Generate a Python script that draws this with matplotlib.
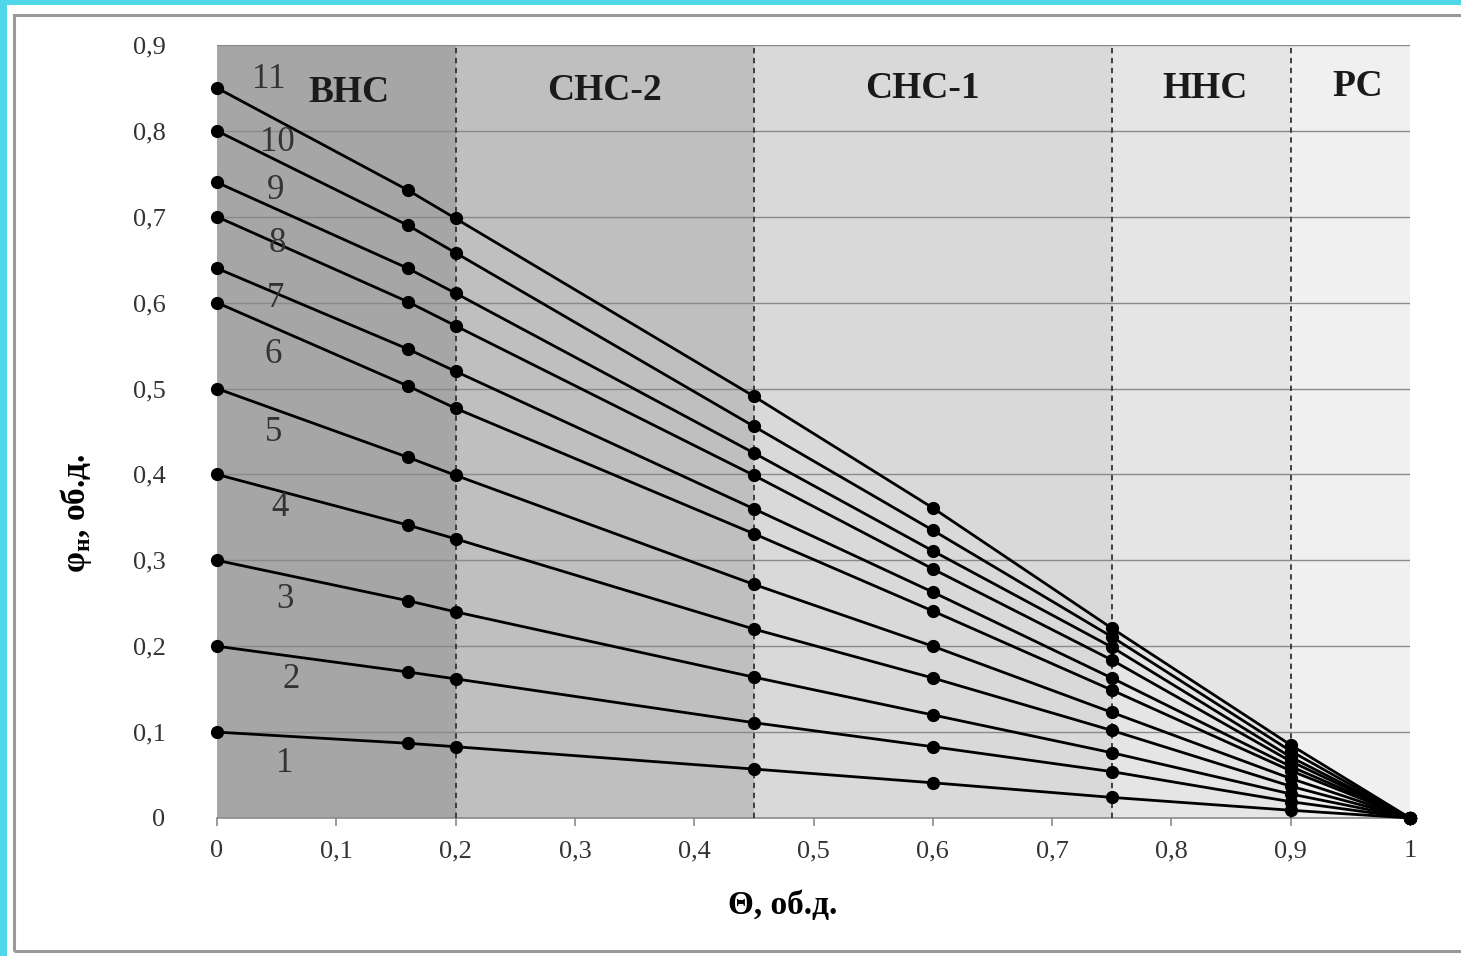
import matplotlib
matplotlib.use("Agg")
import matplotlib.pyplot as plt
from matplotlib.patches import Rectangle

# ---- data ----
theta = [0, 0.16, 0.2, 0.45, 0.6, 0.75, 0.9, 1.0]
phi_1 = [0.10, 0.087, 0.083, 0.057, 0.041, 0.024, 0.009, 0.0]
phi_2 = [0.20, 0.170, 0.162, 0.111, 0.083, 0.054, 0.019, 0.0]
phi_3 = [0.30, 0.253, 0.240, 0.164, 0.120, 0.076, 0.028, 0.0]
phi_4 = [0.40, 0.341, 0.325, 0.220, 0.163, 0.102, 0.037, 0.0]
phi_5 = [0.50, 0.420, 0.399, 0.272, 0.200, 0.123, 0.046, 0.0]
phi_6 = [0.60, 0.503, 0.477, 0.331, 0.241, 0.149, 0.055, 0.0]
phi_7 = [0.64, 0.546, 0.520, 0.360, 0.263, 0.163, 0.060, 0.0]
phi_8 = [0.70, 0.601, 0.573, 0.399, 0.290, 0.184, 0.066, 0.0]
phi_9 = [0.74, 0.640, 0.611, 0.425, 0.311, 0.199, 0.071, 0.0]
phi_10 = [0.80, 0.690, 0.658, 0.456, 0.335, 0.211, 0.078, 0.0]
phi_11 = [0.85, 0.731, 0.698, 0.491, 0.361, 0.221, 0.085, 0.0]
series = [phi_1, phi_2, phi_3, phi_4, phi_5, phi_6, phi_7, phi_8, phi_9, phi_10, phi_11]
curve_labels = ["1", "2", "3", "4", "5", "6", "7", "8", "9", "10", "11"]
label_x = [0.057, 0.062, 0.057, 0.053, 0.047, 0.047, 0.049, 0.051, 0.049, 0.051, 0.043]
label_y = [0.064, 0.161, 0.254, 0.362, 0.449, 0.540, 0.605, 0.669, 0.731, 0.787, 0.860]

zone_edges = [0, 0.2, 0.45, 0.75, 0.9, 1.0]
zone_names = ["ВНС", "СНС-2", "СНС-1", "ННС", "РС"]
zone_colors = ["#a6a6a6", "#bfbfbf", "#d9d9d9", "#e5e5e5", "#f0f0f0"]
zone_label_x = [0.111, 0.325, 0.591, 0.828, 0.956]
zone_label_y = [0.845, 0.847, 0.849, 0.849, 0.852]

xticks = [0, 0.1, 0.2, 0.3, 0.4, 0.5, 0.6, 0.7, 0.8, 0.9, 1.0]
xticklabels = ["0", "0,1", "0,2", "0,3", "0,4", "0,5", "0,6", "0,7", "0,8", "0,9", "1"]
yticks = [0, 0.1, 0.2, 0.3, 0.4, 0.5, 0.6, 0.7, 0.8, 0.9]
yticklabels = ["0", "0,1", "0,2", "0,3", "0,4", "0,5", "0,6", "0,7", "0,8", "0,9"]

plt.rcParams['font.family'] = ['Liberation Serif', 'DejaVu Serif']

W, H = 1461, 956
fig = plt.figure(figsize=(W / 100, H / 100), dpi=100)
fig.patch.set_facecolor("white")

# outer decoration: cyan band (top/left) and gray frame
fig.patches.append(Rectangle((0, 0), 1, 1, transform=fig.transFigure,
                             facecolor="#4fd6e8", edgecolor="none", zorder=-3))
fig.patches.append(Rectangle((7 / W, 0), 1, 1 - 5 / H, transform=fig.transFigure,
                             facecolor="white", edgecolor="none", zorder=-2))
fig.patches.append(Rectangle((14 / W, (H - 951) / H), 1.2, (951 - 15) / H, transform=fig.transFigure,
                             facecolor="none", edgecolor="#9a9a9a", linewidth=2.2, zorder=-1))

ax = fig.add_axes([217 / W, (H - 818) / H, (1410 - 217) / W, (818 - 45) / H])
ax.set_xlim(0, 1)
ax.set_ylim(0, 0.9)

for i in range(len(zone_names)):
    ax.axvspan(zone_edges[i], zone_edges[i + 1], color=zone_colors[i], zorder=0, linewidth=0)
    ax.text(zone_label_x[i], zone_label_y[i], zone_names[i], fontsize=27, fontweight="bold",
            ha="center", va="center", color="#1a1a1a", zorder=5)

for y in yticks[1:]:
    ax.axhline(y, color="#8a8a8a", linewidth=1.0, zorder=1)

for xe in zone_edges[1:-1]:
    ax.axvline(xe, color="#333333", linewidth=1.3, linestyle=(0, (3, 2.5)), zorder=2)

for s in series:
    ax.plot(theta, s, color="black", linewidth=2.0, marker="o", markersize=8.5,
            zorder=4, clip_on=False)

for lx, ly, lt in zip(label_x, label_y, curve_labels):
    ax.text(lx, ly, lt, fontsize=25, ha="center", va="center", color="#333333", zorder=5)

for sp in ["top", "right", "left"]:
    ax.spines[sp].set_visible(False)
ax.spines["bottom"].set_color("#8a8a8a")
ax.spines["bottom"].set_linewidth(1.2)
ax.spines["bottom"].set_zorder(1)

ax.set_xticks(xticks)
ax.set_xticklabels(xticklabels)
ax.set_yticks(yticks)
ax.set_yticklabels(yticklabels)
ax.tick_params(axis="x", length=6, width=1.2, color="#8a8a8a", labelsize=19,
               labelcolor="#333333", pad=10)
ax.tick_params(axis="y", length=0, labelsize=19, labelcolor="#333333", pad=37)

ax.set_xlabel("Θ, об.д.", fontsize=24, fontweight="bold")
ax.xaxis.set_label_coords(0.474, -0.093)
ax.set_ylabel("φ$_{\\mathregular{н}}$, об.д.", fontsize=24, fontweight="bold")
ax.yaxis.set_label_coords(-0.103, 0.395)

fig.savefig("out.png", dpi=100)
